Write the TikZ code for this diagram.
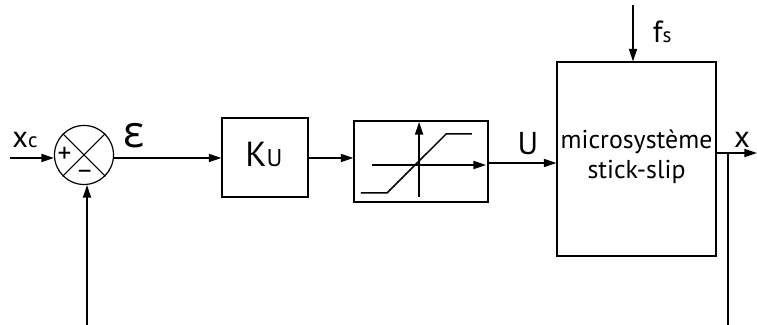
\documentclass[tikz,border=0pt]{standalone}
\usepackage{fontspec}
\setmainfont{PT Sans}
\newfontfamily\greekfont{Open Sans}
\usetikzlibrary{arrows.meta}
\newcommand{\bigtxt}{\fontsize{29}{34}\selectfont}
\newcommand{\smalltxt}{\fontsize{20}{24}\selectfont}
\begin{document}
\begin{tikzpicture}[
    font=\fontsize{24.5}{29}\selectfont,
    block/.style={rectangle, draw=black, line width=0.04cm, text centered, inner sep=0pt},
    sumcircle/.style={circle, draw=black, line width=0.04cm, minimum size=1.967cm, inner sep=0pt},
    arrow/.style={line width=0.05cm, -{Triangle[length=0.42cm,width=0.27cm]}},
    wire/.style={line width=0.05cm},
    label/.style={inner sep=0pt, anchor=base}
]
\useasboundingbox (0, 0) rectangle (25.233, 10.833);

% --- Nodes ---
\node (sum) at (2.8, 5.667) [sumcircle] {};
\node (ku) at (8.833, 5.583) [block, minimum width=2.867cm, minimum height=2.633cm] {};
\node (sat) at (14.033, 5.45) [block, minimum width=4.467cm, minimum height=2.7cm] {};
\node (plant) at (21.217, 5.533) [block, minimum width=5.3cm, minimum height=6.467cm] {};

% Free ends
\coordinate (xin) at (0.333, 5.567);
\coordinate (fsin) at (21.1, 10.667);
\coordinate (xout) at (25.233, 5.733);
\coordinate (tap) at (24.267, 5.733);
\coordinate (tapend) at (24.267, 0);
\coordinate (fbend) at (2.9, 0);

% --- Texts ---
\node (xclabel) at (0.83, 5.9) [label] {\bigtxt x\smalltxt c};
\node (plus) at (2.15, 5.4) [label] {\fontsize{26}{28}\selectfont +};
\node (minus) at (2.83, 4.8) [label] {\fontsize{26}{28}\selectfont −};
\node (eps) at (4.47, 5.9) [label] {\greekfont\fontsize{42}{48}\selectfont ε};
\node (kulabel) at (8.8, 5.27) [label] {\fontsize{33}{36}\selectfont K\fontsize{23}{26}\selectfont U};
\node (ulabel) at (17.6, 5.67) [label] {\fontsize{30}{34}\selectfont U};
\node (fslabel) at (22.07, 9.43) [label] {\bigtxt f\smalltxt s};
\node (xlabel) at (24.73, 5.93) [label] {\bigtxt x};
\node (plantlabel) at ([yshift=0.07cm]plant.center) [align=center, inner sep=0pt] {microsystème\\stick-slip};

% Cross inside the summing point
\draw [line width=0.035cm] (sum.north west) -- (sum.south east);
\draw [line width=0.035cm] (sum.north east) -- (sum.south west);

% Saturation curve
\draw [arrow] (12.4, 5.333) -- (16.2, 5.333);
\draw [arrow] (13.97, 4.267) -- (13.97, 6.767);
\draw [wire] (12.03, 4.4) -- (12.9, 4.4) -- (14.87, 6.367) -- (15.73, 6.367);

% --- Edges ---
\draw [arrow] (xin) -- (xin -| sum.west);
\draw [arrow] (sum.east |- xin) -- (xin -| ku.west);
\draw [arrow] (ku.east |- xin) -- (xin -| sat.west);
\draw [arrow] (sat.east |- 0, 5.4) -- (plant.west |- 0, 5.4);
\draw [arrow] (fsin) -- (fsin |- plant.north);
\draw [arrow] (fbend) -- (fbend |- sum.south);
\draw [arrow] (plant.east |- xout) -- (xout);
\draw [wire] (tap) -- (tapend);

\end{tikzpicture}
\end{document}
